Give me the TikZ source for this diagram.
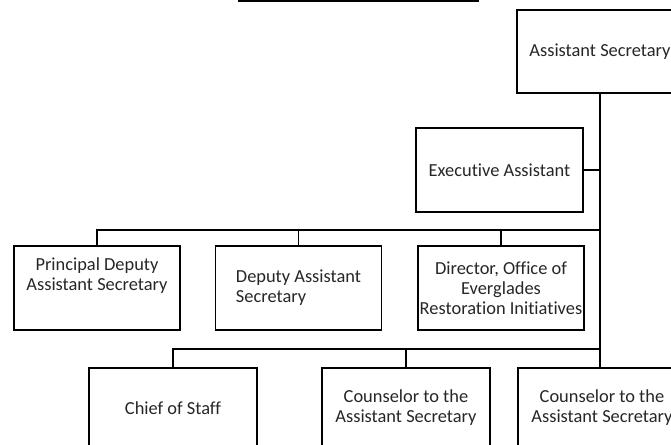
\documentclass[tikz,border=0pt]{standalone}
\usepackage{fontspec}
\setmainfont{Carlito}[Ligatures=NoCommon]
\begin{document}
\begin{tikzpicture}[x=0.75pt,y=-0.75pt,
  box/.style={draw=black,line width=1.1pt,align=center,
    font=\fontsize{13.8}{15}\selectfont,text=black!85,inner sep=1pt},
  midbox/.style={box,minimum width=124.5pt,minimum height=63pt},
  lowbox/.style={box,minimum width=126pt,minimum height=60pt},
  bus/.style={line width=1.1pt},
  trunk/.style={line width=1.9pt}]
\useasboundingbox (0,0) rectangle (671,444);
\clip (0,0) rectangle (671,444);
% underline of the cropped title
\coordinate (ul1) at (238,1);
\coordinate (ul2) at (479,1);
\draw[line width=2.2pt] (ul1) -- (ul2);
% boxes
\node[box,minimum width=124.5pt,minimum height=62.25pt] (AS) at (600,51.5) {Assistant Secretary};
\node[box,minimum width=125.25pt,minimum height=63pt] (EA) at (499.5,170) {Executive Assistant};
\node[midbox] (PDAS) at (97,288) {Principal Deputy\\Assistant Secretary\\[6pt]};
\node[midbox,align=left] (DAS) at (298.5,288) {Deputy Assistant\\Secretary};
\node[midbox] (DIR) at (501,288) {Director, Office of\\Everglades\\Restoration Initiatives};
\node[lowbox] (COS) at (173,408) {Chief of Staff};
\node[lowbox] (C1) at (406,408) {Counselor to the\\Assistant Secretary};
\node[lowbox] (C2) at (602,408) {Counselor to the\\Assistant Secretary};
% junctions
\coordinate (j1) at (600,230);
\coordinate (j2) at (600,349);
% connectors
\draw[trunk] (AS.south) -- (j2) -- (C2.north -| j2);
\draw[bus] (EA.east) -- (EA.east -| j1);
\draw[bus] (j1) -| (PDAS.north);
\draw[bus] (DAS.north) |- (j1);
\draw[bus] (DIR.north) |- (j1);
\draw[bus] (j2) -| (COS.north);
\draw[bus] (C1.north) |- (j2);
\end{tikzpicture}
\end{document}
